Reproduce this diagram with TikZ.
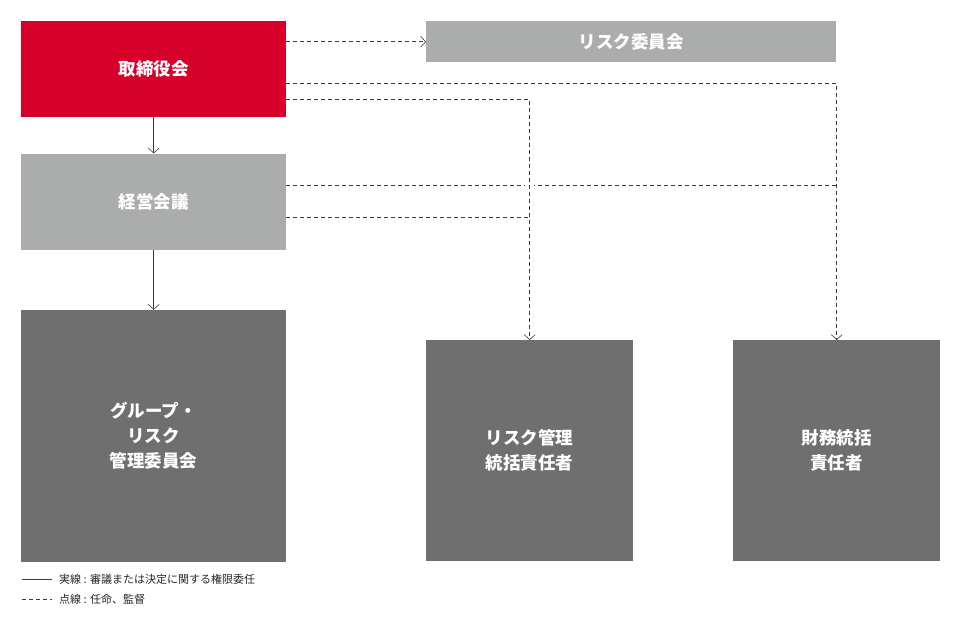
\documentclass[tikz,border=0pt]{standalone}
\usepackage{fontspec}
\usepackage{tikz}
\usetikzlibrary{arrows.meta}
\usetikzlibrary{calc}
\usetikzlibrary{positioning}
\newfontfamily\cjk{Noto Sans CJK JP}
\definecolor{boardred}{HTML}{D7002A}
\definecolor{lightgrey}{HTML}{ABACAC}
\definecolor{darkgrey}{HTML}{6F6F6F}
\definecolor{linegrey}{HTML}{3A3A3A}
\tikzstyle{block} = [inner sep=0pt, align=center, text=white, anchor=north west,
	font=\cjk\bfseries\fontsize{17.5}{25}\selectfont]
\tikzstyle{arrow} = [-{Straight Barb[length=5pt, width=11pt]}, draw=linegrey, line width=0.6pt]
\tikzstyle{dashline} = [draw=linegrey, line width=0.6pt, dash pattern=on 4pt off 3pt]
\tikzstyle{dasharrow} = [arrow, dash pattern=on 4pt off 3pt]
\tikzstyle{legend} = [inner sep=0pt, text=black!85, font=\cjk\fontsize{11}{13}\selectfont]
\tikzset{blocksize/.style 2 args={minimum width=#1pt, minimum height=#2pt}}

\begin{document}
\begin{tikzpicture}[x=1pt, y=-1pt]
	\useasboundingbox (0,0) rectangle (960,625);

	\node (board) [block, fill=boardred, blocksize={265}{96}] at (21,21) {取締役会};
	\node (riskcom) [block, fill=lightgrey, blocksize={410}{41}] at (426,21) {リスク委員会};
	\node (mgmt) [block, fill=lightgrey, blocksize={265}{96}, below=36pt, anchor=north west] at (board.south west) {経営会議};
	\node (group) [block, fill=darkgrey, blocksize={265}{252}, below=60pt, anchor=north west] at (mgmt.south west) {グループ・\\リスク\\管理委員会};
	\node (riskmgr) [block, fill=darkgrey, blocksize={207}{221}] at (426,340) {リスク管理\\統括責任者};
	\node (finance) [block, fill=darkgrey, blocksize={207}{221}] at (733,340) {財務統括\\責任者};

	\draw [arrow] (board) -- (mgmt);
	\draw [arrow] (mgmt) -- (group);

	\draw [dasharrow] (board.east |- riskcom.west) -- (riskcom.west);
	\draw [dasharrow] ($(board.east)+(0,14)$) -| (finance.north);
	\draw [dashline] ($(mgmt.east)+(0,-16)$) coordinate (m1) -- (m1 -| finance.north);
	\draw [dasharrow, preaction={draw=white, solid, line width=9pt, -}] ($(board.east)+(0,30)$) -| (riskmgr.north);
	\draw [dashline] ($(mgmt.east)+(0,16)$) coordinate (m2) -- (m2 -| riskmgr.north);

	\coordinate (solidA) at (22,579);
	\coordinate (solidB) at (52,579);
	\draw [draw=linegrey, line width=0.6pt] (solidA) -- (solidB);
	\node (solidtext) [legend, right=7pt of solidB] {実線 : 審議または決定に関する権限委任};
	\coordinate (dashA) at (22,599);
	\coordinate (dashB) at (52,599);
	\draw [dashline] (dashA) -- (dashB);
	\node (dashtext) [legend, right=7pt of dashB] {点線 : 任命、監督};
\end{tikzpicture}
\end{document}
